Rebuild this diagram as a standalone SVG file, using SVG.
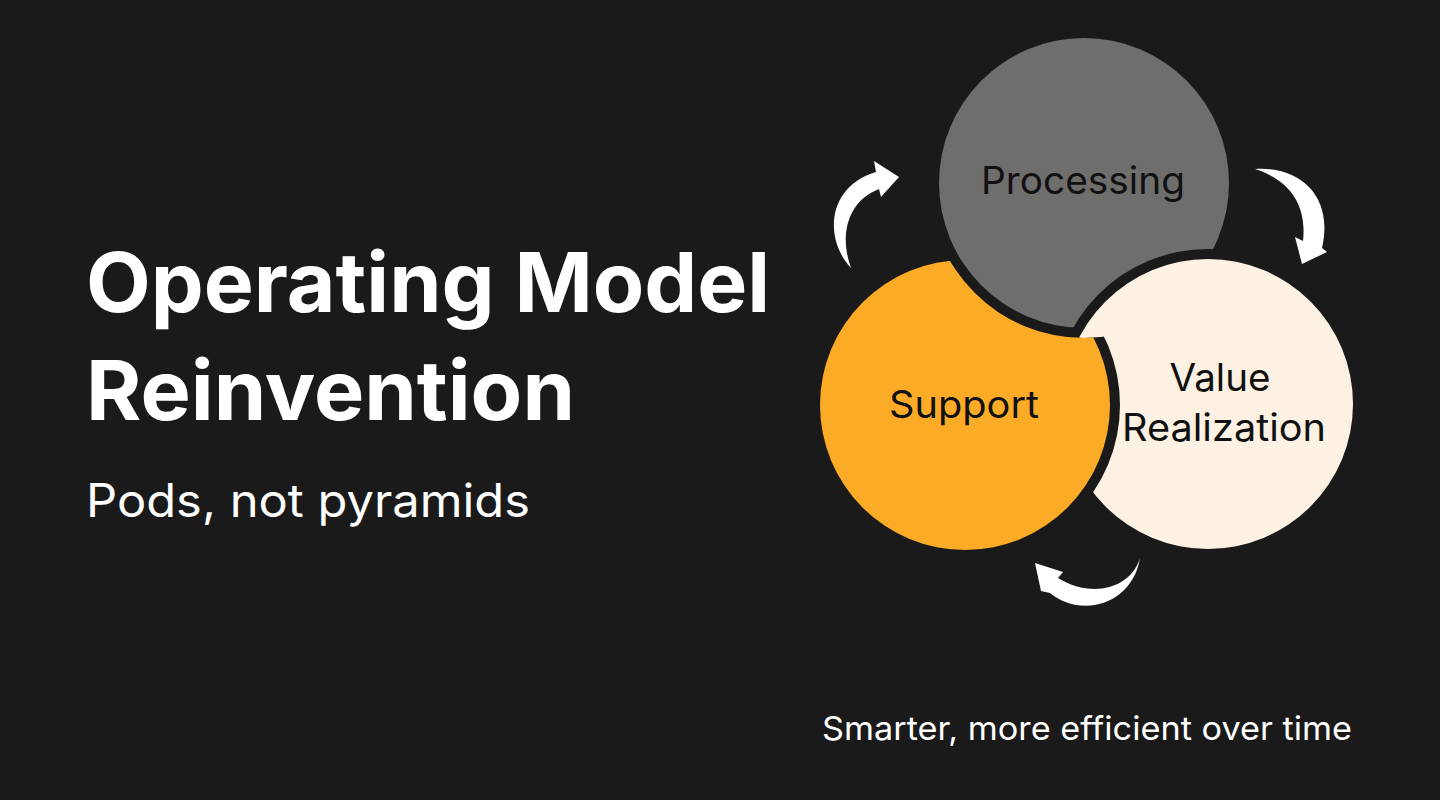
<svg xmlns="http://www.w3.org/2000/svg" width="1440" height="800" viewBox="0 0 1440 800">
<style>
.bg{fill:#1a1a1a}
.gap{fill:#1a1a1a}
.lbl{font-family:Inter,"Liberation Sans",sans-serif;font-size:38px;fill:#111111;text-anchor:middle}
.title{font-family:Inter,"Liberation Sans",sans-serif;font-weight:700;font-size:83px;fill:#ffffff}
.sub{font-family:Inter,"Liberation Sans",sans-serif;font-size:46px;fill:#ffffff}
.foot{font-family:Inter,"Liberation Sans",sans-serif;font-size:33px;fill:#ffffff}
.arrow{fill:#ffffff}
</style>
<defs>
<clipPath id="outsideGray">
<path clip-rule="evenodd" d="M0,0 H1440 V800 H0 Z M1084,28 A155,155 0 1,0 1084,338 A155,155 0 1,0 1084,28 Z"/>
</clipPath>
</defs>
<rect class="bg" x="0" y="0" width="1440" height="800"/>
<g id="title">
<text class="title" x="86" y="312" textLength="684" lengthAdjust="spacingAndGlyphs">Operating Model</text>
<text class="title" x="86" y="420" textLength="489" lengthAdjust="spacingAndGlyphs">Reinvention</text>
<text class="sub" x="86" y="517" textLength="444" lengthAdjust="spacingAndGlyphs">Pods, not pyramids</text>
</g>
<g id="processing">
<circle class="gap" cx="1084" cy="183" r="155"/>
<circle cx="1084" cy="183" r="145" fill="#6e6e6c"/>
<text class="lbl" x="1083" y="194" textLength="204" lengthAdjust="spacingAndGlyphs">Processing</text>
</g>
<g id="value-realization">
<circle class="gap" cx="1208" cy="404" r="155"/>
<circle cx="1208" cy="404" r="145" fill="#fdf1e3"/>
<text class="lbl" x="1220" y="391" textLength="101" lengthAdjust="spacingAndGlyphs">Value</text>
<text class="lbl" x="1224" y="441" textLength="204" lengthAdjust="spacingAndGlyphs">Realization</text>
</g>
<g id="support" clip-path="url(#outsideGray)">
<circle class="gap" cx="965" cy="405" r="155"/>
<circle cx="965" cy="405" r="145" fill="#fcab27"/>
<text class="lbl" x="964" y="418" textLength="150" lengthAdjust="spacingAndGlyphs">Support</text>
</g>
<g id="connectors">
<path class="arrow" d="M851,268 C823,238 828,186 876,172 L874,161 L899,177 L881,197 L879,189 C850,200 838,232 851,268 Z"/>
<path class="arrow" d="M1255,169 C1300,166 1334,196 1322,248 L1327,252 L1302,264 L1295,237 L1303,241 C1307,205 1290,180 1255,169 Z"/>
<path class="arrow" d="M1140,558 C1132,606 1080,618 1050,593 L1041,591 L1035,563 L1063,572 L1058,578 C1090,598 1130,590 1140,558 Z"/>
</g>
<g id="footer">
<text class="foot" x="822" y="740" textLength="530" lengthAdjust="spacingAndGlyphs">Smarter, more efficient over time</text>
</g>
</svg>
